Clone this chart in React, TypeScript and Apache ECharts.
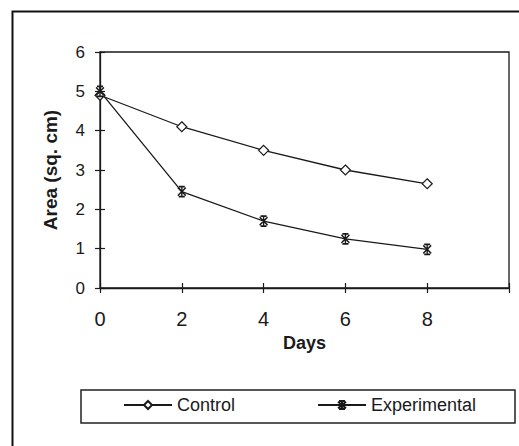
import React, { useEffect, useRef } from "react";
import * as echarts from "echarts";

const days = [0, 2, 4, 6, 8];
const control = [4.9, 4.1, 3.5, 3.0, 2.65];
const experimental = [5.0, 2.45, 1.7, 1.25, 0.98];
const xTicks = [0, 2, 4, 6, 8, 10];
const seriesNames = ["Control", "Experimental"];
const xName = "Days";
const yName = "Area (sq. cm)";

const INK = "#1a1a1a";
const STAR = "path://M5 0L5 10M1 1L9 9M9 1L1 9M2 0L8 0M2 10L8 10";

export default function App() {
  const ref = useRef<HTMLDivElement>(null);
  useEffect(() => {
    if (!ref.current) return;
    const chart = echarts.init(ref.current, null, { renderer: "svg" });
    const gridPos = { left: 100, top: 52, right: 10, bottom: 158 };
    const baseX = {
      type: "value" as const,
      min: xTicks[0],
      max: xTicks[xTicks.length - 1],
      interval: 2,
      splitLine: { show: false },
    };
    const baseY = {
      type: "value" as const,
      min: 0,
      max: 6,
      interval: 1,
      splitLine: { show: false },
    };
    chart.setOption({
      animation: false,
      backgroundColor: "#ffffff",
      grid: [
        { ...gridPos, show: true, borderColor: INK, borderWidth: 1.3, backgroundColor: "transparent" },
        { ...gridPos },
      ],
      xAxis: [
        {
          ...baseX,
          gridIndex: 0,
          name: xName,
          nameLocation: "middle",
          nameGap: 41,
          nameTextStyle: { fontFamily: "Liberation Sans", fontWeight: "bold", fontSize: 18, color: INK },
          axisLine: { show: true, lineStyle: { color: INK, width: 1.3 } },
          axisTick: { show: true, inside: false, length: 5, lineStyle: { color: INK, width: 1.2 } },
          axisLabel: {
            margin: 21,
            fontFamily: "Liberation Sans",
            fontSize: 20,
            color: INK,
            formatter: (v: number) => (v === 10 ? "" : String(v)),
          },
        },
        {
          ...baseX,
          gridIndex: 1,
          axisLine: { show: false },
          axisTick: { show: true, inside: true, length: 5, lineStyle: { color: INK, width: 1.2 } },
          axisLabel: { show: false },
        },
      ],
      yAxis: [
        {
          ...baseY,
          gridIndex: 0,
          name: yName,
          nameLocation: "middle",
          nameGap: 40,
          nameTextStyle: { fontFamily: "Liberation Sans", fontWeight: "bold", fontSize: 19, color: INK },
          axisLine: { show: true, lineStyle: { color: INK, width: 1.3 } },
          axisTick: { show: true, inside: false, length: 5, lineStyle: { color: INK, width: 1.2 } },
          axisLabel: {
            margin: 15,
            fontFamily: "Liberation Sans",
            fontSize: 17,
            color: INK,
          },
        },
        {
          ...baseY,
          gridIndex: 1,
          axisLine: { show: false },
          axisTick: { show: true, inside: true, length: 5, lineStyle: { color: INK, width: 1.2 } },
          axisLabel: { show: false },
        },
      ],
      legend: {
        left: 123,
        top: 396,
        padding: 0,
        itemWidth: 48,
        itemHeight: 10,
        itemGap: 82,
        textStyle: { fontFamily: "Liberation Sans", fontSize: 18, color: INK },
        data: seriesNames,
      },
      graphic: [
        {
          type: "rect",
          shape: { x: 12.5, y: 11.5, width: 700, height: 600 },
          style: { fill: "none", stroke: "#111", lineWidth: 2 },
          silent: true,
        },
        {
          type: "rect",
          shape: { x: 81, y: 390, width: 434, height: 33 },
          style: { fill: "none", stroke: "#222", lineWidth: 1.5 },
          silent: true,
        },
      ],
      series: [
        {
          name: seriesNames[0],
          type: "line",
          xAxisIndex: 0,
          yAxisIndex: 0,
          data: days.map((d, i) => [d, control[i]]),
          symbol: "diamond",
          symbolSize: [10, 10],
          lineStyle: { color: INK, width: 1.3 },
          itemStyle: { color: "#ffffff", borderColor: INK, borderWidth: 1.2 },
        },
        {
          name: seriesNames[1],
          type: "line",
          xAxisIndex: 0,
          yAxisIndex: 0,
          data: days.map((d, i) => [d, experimental[i]]),
          symbol: STAR,
          symbolSize: [8, 10],
          lineStyle: { color: INK, width: 1.3 },
          itemStyle: { color: INK, borderColor: INK, borderWidth: 1.5 },
        },
      ],
    });
    return () => chart.dispose();
  }, []);
  return (
    <div
      ref={ref}
      style={{ position: "fixed", left: 0, top: 0, width: 519, height: 446 }}
    />
  );
}
